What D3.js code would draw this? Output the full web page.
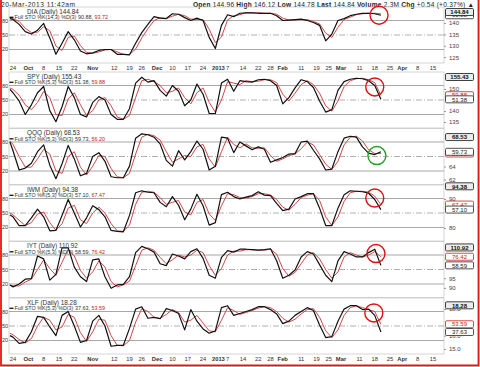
<!DOCTYPE html>
<html><head><meta charset="utf-8">
<script src="https://cdn.jsdelivr.net/npm/d3@7"></script>
<style>body{margin:0;background:#fff}svg{display:block}text{font-family:"Liberation Sans",Arial,sans-serif}</style>
</head><body><svg id="c" width="480" height="367"></svg>
<script>
// trading-day index (0 = 24 Sep 2012, 120 = 20 Mar 2013)
const days=[-1,0,2,4,6,8,10,12,14,16,18,20,22,24,26,28,30,32,34,36,38,40,42,44,46,48,50,52,54,56,58,60,62,64,66,68,70,72,74,76,78,80,82,84,86,88,90,92,94,96,98,100,102,104,106,108,110,112,114,116,118,120];
const tickDays=[0,5,10,15,20,26,33,38,42,47,52,57,62,67,70,75,80,84,88,94,99,103,107,113,118,123,127,132,137];
const tickLabels=["24","Oct","8","15","22","Nov","12","19","26","Dec","10","17","24","2013","7","14","22","28","Feb","11","19","25","Mar","11","18","25","Apr","8","15"];
const tickBold=["Oct","Nov","Dec","2013","Feb","Mar","Apr"];

const symbols=["DIA","SPY","QQQ","IWM","IYT","XLF"];
const lastPrice=["144.84","155.43","68.53","94.38","110.92","18.28"];
const lastK=["90.88","51.38","59.73","57.10","58.59","37.63"];
const lastD=["93.72","59.88","56.20","67.47","76.42","53.59"];
const kParams=["%K(14,3)","%K(5,3)","%K(5,3)","%K(5,3)","%K(5,3)","%K(5,3)"];
const priceTicks=[[140,135,130,125],[150,140,135],[64,62],[90,80],[95,90],[18,16,15]];
const priceDomains=[[122.4,147.05],[132.3,157.7],[61.23,69.85],[75.5,94.83],[85,114],[14.62,18.83]];

const diaK=[84,82,72,57,52,60,74,44,10,33,57,40,17,11,13,18,20,20,10,10,9,33,55,72,88,85,84,94,93,86,80,85,80,45,22,70,92,88,95,96,96,95,95,95,90,80,81,82,83,80,76,70,38,52,80,84,90,93,95,95,94,90.88];
const diaD=[85,84,78,64,55,56,67,59,27,18,45,48,28,14,12,15,19,20,15,10,9.5,21,44,63,80,86,84,89,93,90,83,82,82,62,34,46,81,90,92,96,96,96,95,95,93,85,81,81,82,82,78,73,54,45,66,82,87,92,94,95,95,93.72];
const spyK=[72,65,48,20,40,65,78,28,5,36,78,55,20,15,45,57,50,20,10,10,32,85,97,87,90,70,58,80,68,38,50,83,62,22,22,85,93,68,90,88,87,92,93,90,80,42,55,75,92,88,76,48,25,30,70,88,93,95,94,90,80,51.38];
const spyD=[75,72,60,40,30,45,68,55,20,18,52,65,40,18,28,50,55,38,15,10,18,55,90,93,88,80,65,68,75,55,42,65,75,45,25,50,88,85,82,90,88,89,92,92,86,62,48,64,82,90,82,64,38,27,48,78,90,94,95,92,86,59.88];
const qqqK=[80,62,22,26,36,60,74,32,4,35,73,45,10,15,50,58,40,8,6,6,30,88,97,95,90,76,42,30,62,43,60,82,65,22,30,90,88,58,80,72,64,70,65,38,43,48,55,56,80,82,63,45,22,24,60,88,92,90,70,57,54,59.73];
const qqqD=[82,75,50,28,28,45,65,55,20,15,50,60,28,12,30,52,50,25,8,6,15,55,90,96,93,84,60,38,45,52,50,70,75,45,28,60,90,75,68,76,68,67,68,52,40,45,52,55,66,80,74,54,34,23,40,74,90,92,82,64,56,56.20];
const iwmK=[46,42,24,24,40,58,42,13,14,45,78,50,21,40,65,57,42,14,12,11,45,92,96,93,92,72,63,84,66,36,58,89,65,25,30,88,93,84,79,83,86,94,87,86,70,55,58,79,84,90,90,60,24,24,60,88,96,95,94,91,78,57.10];
const iwmD=[50,46,35,24,30,48,52,30,14,28,60,66,36,28,50,62,50,28,13,12,25,68,93,95,93,82,68,72,76,52,46,72,78,48,34,65,90,88,82,81,84,90,90,87,78,62,56,68,82,87,90,76,42,24,42,74,92,95,95,93,85,67.47];
const iytK=[18,14,20,30,31,78,72,28,40,95,95,55,35,25,70,72,35,11,18,19,35,85,98,93,86,62,58,82,78,72,87,93,73,38,32,75,89,86,92,92,91,90,91,93,68,32,38,49,76,87,82,60,38,25,68,87,82,76,76,85,92,58.59];
const iytD=[18,16,16,24,30,50,70,52,38,65,92,78,48,32,45,68,55,25,14,18,26,58,90,95,90,75,62,70,80,76,80,90,85,58,38,52,80,88,88,91,91,90,90,92,82,52,36,44,62,80,85,72,50,32,45,76,85,80,76,80,87,76.42];
const xlfK=[30,27,14,16,38,70,68,48,30,72,80,50,16,20,60,72,50,8,10,10,45,85,90,66,68,65,86,82,76,42,84,60,44,35,40,88,92,72,76,80,84,90,90,84,75,55,60,72,80,88,82,52,26,28,60,85,92,92,84,85,72,37.63];
const xlfD=[35,32,22,15,24,50,68,62,42,48,74,68,36,18,38,64,62,30,10,9,20,58,86,80,68,66,74,84,78,58,62,72,56,40,38,62,88,82,74,78,82,87,90,88,80,66,58,64,75,84,86,68,40,26,42,72,88,92,88,84,80,53.59];
const kSeries=[diaK,spyK,qqqK,iwmK,iytK,xlfK];
const dSeries=[diaD,spyD,qqqD,iwmD,iytD,xlfD];
// annotation circles: [trading day, %K level, colour]
const marks=[[119.4,91,"#e01010"],[118,77,"#e01010"],[118.7,52,"#20a020"],[118,81,"#e01010"],[118.4,83,"#e01010"],[117.7,77,"#e01010"]];

const svg=d3.select("#c");
const L=9,R=444,H=56;
const tops=[7,72,128.5,185,241.5,298];
const x=d3.scaleLinear().domain([0,137]).range([13,433]);
const KC="#111",DC="#d04848",GRID="#a8a8a8";

svg.append("text").attr("x",1).attr("y",6.5).attr("font-size",6.6).attr("fill","#222")
  .attr("textLength",74).attr("lengthAdjust","spacing").text("20-Mar-2013 11:42am");
const hr=svg.append("text").attr("x",193).attr("y",6.5).attr("font-size",6.6).attr("fill","#222")
  .attr("textLength",281).attr("lengthAdjust","spacing");
[["Open ",1],["144.96 ",0],["High ",1],["146.12 ",0],["Low ",1],["144.78 ",0],["Last ",1],["144.84 ",0],["Volume ",1],["2.3M ",0],["Chg ",1],["+0.54 (+0.37%) ▲",0]]
 .forEach(([t,b])=>hr.append("tspan").attr("font-weight",b?"bold":"normal").text(t));

const defs=svg.append("defs");
symbols.forEach((sym,i)=>{
  const top=tops[i];
  const y=d3.scaleLinear().domain([-8,108]).range([top+H,top]);
  const yp=d3.scaleLinear().domain(priceDomains[i]).range([top+H,top]);
  const g=svg.append("g");
  defs.append("clipPath").attr("id","cp"+i).append("rect").attr("x",L).attr("y",top).attr("width",R-L).attr("height",H);
  g.append("rect").attr("x",L).attr("y",top).attr("width",R-L).attr("height",H).attr("fill","none").attr("stroke","#c4c4c4").attr("stroke-width",0.7);
  [80,20].forEach(v=>g.append("line").attr("x1",L).attr("x2",R).attr("y1",y(v)).attr("y2",y(v)).attr("stroke",GRID).attr("stroke-width",1.2));
  g.append("line").attr("x1",L).attr("x2",R).attr("y1",y(50)).attr("y2",y(50)).attr("stroke",GRID).attr("stroke-width",0.9).attr("stroke-dasharray","6,2,1,2");
  [80,50,20].forEach(v=>g.append("text").attr("x",8).attr("y",y(v)+2).attr("text-anchor","end").attr("font-size",5.5).attr("fill","#333").text(v));
  const line=d3.line().x((d,j)=>x(days[j])).y(d=>y(d));
  const lg=g.append("g").attr("clip-path","url(#cp"+i+")");
  lg.append("path").attr("d",line(dSeries[i])).attr("fill","none").attr("stroke",DC).attr("stroke-width",1);
  lg.append("path").attr("d",line(kSeries[i])).attr("fill","none").attr("stroke",KC).attr("stroke-width",1.2).attr("stroke-linejoin","round");
  const ax=g.append("g").attr("transform",`translate(${R},0)`).call(d3.axisRight(yp).tickValues(priceTicks[i]).tickSize(2).tickPadding(3));
  ax.select(".domain").remove();
  ax.selectAll("text").attr("font-size",6).attr("fill","#444").attr("font-family","Liberation Sans,Arial,sans-serif");
  ax.selectAll("line").attr("stroke","#999");
  const box=(yy,txt,col,fill,bold)=>{
    g.append("rect").attr("x",R+1.5).attr("y",yy-3.5).attr("width",28).attr("height",7).attr("fill",fill).attr("stroke",col).attr("stroke-width",0.8).attr("rx",1.2);
    g.append("text").attr("x",R+15.5).attr("y",yy+2.2).attr("text-anchor","middle").attr("font-size",6).attr("font-weight",bold?"bold":"normal").attr("fill",col).text(txt);
  };
  box(y(+lastD[i]),lastD[i],"#c82020","#fff",0);
  box(y(+lastK[i]),lastK[i],"#222","#fff",0);
  box(yp(+lastPrice[i]),lastPrice[i],"#111","#ececec",1);
  g.append("text").attr("x",27).attr("y",top+6.5).attr("font-size",6.4).attr("fill","#333").text(`${sym} (Daily) ${lastPrice[i]}`);
  g.append("line").attr("x1",9.5).attr("x2",13.5).attr("y1",top+10.3).attr("y2",top+10.3).attr("stroke","#111").attr("stroke-width",1.3);
  const st=g.append("text").attr("x",14.5).attr("y",top+12.2).attr("font-size",5.4).attr("fill","#333");
  st.append("tspan").text(`Full STO ${kParams[i]} %D(3) ${lastK[i]}, `);
  st.append("tspan").attr("fill","#c82020").text(lastD[i]);
  const m=marks[i];
  g.append("circle").attr("cx",x(m[0])).attr("cy",y(m[1])).attr("r",9).attr("fill","none").attr("stroke",m[2]).attr("stroke-width",1.4);
});

[tops[0]+H,tops[5]+H].forEach(yy=>{
  const ag=svg.append("g");
  tickDays.forEach((d,j)=>{
    ag.append("text").attr("x",x(d)).attr("y",yy+6.8).attr("text-anchor","middle").attr("font-size",5.8)
      .attr("font-weight",tickBold.includes(tickLabels[j])?"bold":"normal").attr("fill","#333").text(tickLabels[j]);
  });
});

svg.append("path").attr("d","M1,0V365.5H478.5V0").attr("fill","none").attr("stroke","#e01818").attr("stroke-width",1.8);
</script></body></html>
